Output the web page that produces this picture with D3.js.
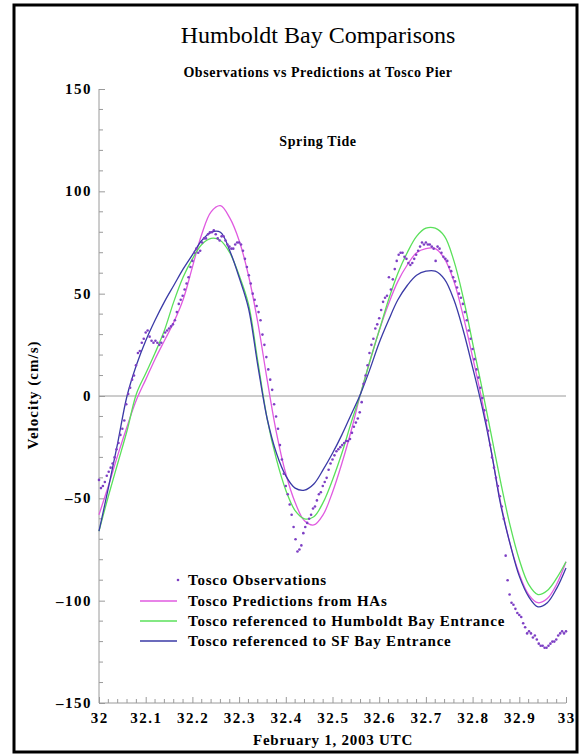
<!DOCTYPE html>
<html>
<head>
<meta charset="utf-8">
<script src="https://cdn.jsdelivr.net/npm/d3@7"></script>
<style>
  html, body { margin: 0; padding: 0; background: #fff; }
  svg { display: block; }
  text { font-family: "Liberation Serif", "Times New Roman", serif; fill: #000; }
</style>
</head>
<body>
<svg id="chart" width="582" height="755"></svg>
<script>
// Tosco Pier current velocity (cm/s), February 1, 2003 (day 32 UTC)

// Observations, every 6 minutes from day 32.0 to 33.0 (one row per hour)
const obsValues = [
  -41, -45, -44, -42, -39, -37, -35, -33, -30, -26,
  -23, -19, -16, -12, -4, 1, 4, 8, 10, 15,
  21, 22, 26, 28, 31, 32, 29, 27, 26, 27,
  26, 25, 26, 29, 31, 32, 33, 34, 35, 37,
  41, 45, 47, 49, 52, 55, 58, 63, 66, 70,
  72, 70, 71, 75, 77, 77, 79, 80, 80, 81,
  79, 77, 76, 78, 78, 76, 74, 73, 72, 72,
  74, 75, 75, 74, 71, 67, 63, 59, 55, 50,
  47, 44, 41, 37, 30, 25, 19, 13, 8, 3,
  -4, -10, -16, -24, -31, -38, -44, -48, -53, -58,
  -64, -70, -76, -75, -73, -67, -64, -62, -60, -58,
  -55, -54, -51, -48, -47, -44, -42, -40, -36, -33,
  -31, -29, -27, -26, -25, -24, -23, -22, -22, -21,
  -18, -15, -13, -11, -8, -3, 6, 10, 15, 21,
  25, 28, 33, 35, 38, 42, 46, 48, 49, 58,
  52, 57, 62, 66, 69, 70, 70, 68, 67, 65,
  64, 65, 67, 69, 71, 73, 75, 74, 75, 74,
  74, 73, 72, 66, 73, 72, 70, 68, 67, 66,
  63, 61, 58, 56, 53, 50, 48, 45, 41, 37,
  32, 28, 23, 18, 13, 9, 4, -1, -7, -12,
  -17, -24, -30, -35, -40, -44, -49, -54, -60, -78,
  -90, -97, -101, -102, -104, -106, -107, -108, -111, -113,
  -116, -115, -116, -118, -117, -119, -121, -122, -122, -123,
  -123, -122, -121, -120, -120, -119, -117, -116, -115, -116,
  -115
];

// Predictions, every 0.02 day from day 32.0 to 33.0
const haPredValues = [
  -58, -44, -29, -15, -2, 8, 18, 27, 36, 47,
  63, 79, 90, 93, 87, 76, 59, 36, 8, -18,
  -38, -52, -61, -63, -58, -47, -33, -17, 1, 17,
  32, 45, 56, 64, 70, 72, 72, 67, 56, 39,
  19, -2, -27, -52, -72, -87, -97, -101, -99, -92,
  -81
];
const humboldtRefValues = [
  -66, -49, -33, -17, 1, 11, 21, 32, 46, 58,
  67, 74, 77, 76, 70, 59, 45, 17, -11, -31,
  -46, -56, -60, -59, -52, -41, -28, -13, 1, 17,
  32, 47, 60, 70, 78, 82, 82, 78, 66, 48,
  26, 4, -19, -42, -63, -80, -92, -97, -95, -89,
  -81
];
const sfRefValues = [
  -66, -45, -23, 0, 15, 27, 37, 46, 54, 62,
  69, 76, 80, 80, 71, 58, 43, 15, -11, -28,
  -39, -45, -46, -43, -36, -28, -19, -9, 1, 13,
  26, 37, 47, 54, 59, 61, 61, 57, 47, 32,
  14, -5, -27, -53, -72, -88, -98, -103, -101, -94,
  -84
];

const xTickValues = [32, 32.1, 32.2, 32.3, 32.4, 32.5, 32.6, 32.7, 32.8, 32.9, 33];
const xTickLabels = ["32", "32.1", "32.2", "32.3", "32.4", "32.5", "32.6", "32.7", "32.8", "32.9", "33"];
const yTickValues = [-150, -100, -50, 0, 50, 100, 150];
const yTickLabels = ["\u2013150", "\u2013100", "\u201350", "0", "50", "100", "150"];

const legendLabels = [
  "Tosco Observations",
  "Tosco Predictions from HAs",
  "Tosco referenced to Humboldt Bay Entrance",
  "Tosco referenced to SF Bay Entrance"
];

const colors = {
  obs: "#7d3fc4",
  ha: "#e05ae0",
  humboldt: "#5ae05a",
  sf: "#3a3aa6",
  axis: "#9a9a9a"
};

const obsPoints = obsValues.map((v, i) => ({ t: 32 + i / 240, v }));
const predSeries = (vals) => vals.map((v, i) => ({ t: 32 + i * 0.02, v }));

const svg = d3.select("#chart");

// outer frame
svg.append("rect")
  .attr("x", 14).attr("y", 5).attr("width", 563).attr("height", 747)
  .attr("fill", "none").attr("stroke", "#000").attr("stroke-width", 3);

const x = d3.scaleLinear().domain([32, 33]).range([99, 566]);
const y = d3.scaleLinear().domain([-150, 150]).range([703, 89]);

// titles
svg.append("text").attr("x", 318).attr("y", 43).attr("text-anchor", "middle")
  .style("font-size", "24px").text("Humboldt Bay Comparisons");
svg.append("text").attr("x", 318).attr("y", 77).attr("text-anchor", "middle")
  .style("font-size", "14px").style("font-weight", "bold").style("letter-spacing", "0.55px")
  .text("Observations vs Predictions at Tosco Pier");
svg.append("text").attr("x", 318).attr("y", 146).attr("text-anchor", "middle")
  .style("font-size", "14px").style("font-weight", "bold").style("letter-spacing", "0.6px")
  .text("Spring Tide");

// left axis with minor ticks pointing inward
const yMinor = d3.range(-150, 151, 10).filter(v => v % 50 !== 0);
const yAxisG = svg.append("g").attr("transform", `translate(${x(32)},0)`);
yAxisG.call(d3.axisRight(y).tickValues(yTickValues).tickSize(6).tickFormat(""));
yAxisG.call(g => g.selectAll(".minor").data(yMinor).join("line")
  .attr("class", "minor").attr("x1", 0).attr("x2", 4)
  .attr("y1", d => y(d)).attr("y2", d => y(d)));
yAxisG.selectAll(".domain").attr("stroke", colors.axis).attr("d", `M0,${y(-150)}V${y(150)}`);
yAxisG.selectAll("line").attr("stroke", colors.axis);
yAxisG.selectAll(".tick text").remove();

svg.append("g").selectAll("text").data(yTickValues).join("text")
  .attr("x", 92).attr("y", d => y(d) + 5).attr("text-anchor", "end")
  .style("font-size", "15px").style("font-weight", "bold").style("letter-spacing", "1.5px")
  .text((d, i) => yTickLabels[i]);

// bottom axis with ticks pointing upward
const xMinor = d3.range(0, 51).map(i => 32 + i * 0.02).filter((d, i) => i % 5 !== 0);
const xAxisG = svg.append("g").attr("transform", `translate(0,${y(-150)})`);
xAxisG.call(d3.axisTop(x).tickValues(xTickValues).tickSize(6).tickFormat(""));
xAxisG.call(g => g.selectAll(".minor").data(xMinor).join("line")
  .attr("class", "minor").attr("y1", 0).attr("y2", -4)
  .attr("x1", d => x(d)).attr("x2", d => x(d)));
xAxisG.selectAll(".domain").attr("stroke", colors.axis).attr("d", `M${x(32)},0H${x(33)}`);
xAxisG.selectAll("line").attr("stroke", colors.axis);

svg.append("g").selectAll("text").data(xTickValues).join("text")
  .attr("x", d => x(d) + 0.75).attr("y", 723).attr("text-anchor", "middle")
  .style("font-size", "15px").style("font-weight", "bold").style("letter-spacing", "1.5px")
  .text((d, i) => xTickLabels[i]);

svg.append("text").attr("x", 333).attr("y", 745).attr("text-anchor", "middle")
  .style("font-size", "15px").style("font-weight", "bold").style("letter-spacing", "0.75px")
  .text("February 1, 2003 UTC");
svg.append("text").attr("transform", "translate(38,395) rotate(-90)")
  .attr("text-anchor", "middle")
  .style("font-size", "15px").style("font-weight", "bold").style("letter-spacing", "1px")
  .text("Velocity (cm/s)");

// zero reference line
svg.append("line")
  .attr("x1", x(32)).attr("x2", x(33)).attr("y1", y(0)).attr("y2", y(0))
  .attr("stroke", colors.axis).attr("stroke-width", 1);

// prediction curves
const line = d3.line().x(d => x(d.t)).y(d => y(d.v)).curve(d3.curveCatmullRom.alpha(0.5));
const curves = [
  { data: predSeries(haPredValues), color: colors.ha },
  { data: predSeries(humboldtRefValues), color: colors.humboldt },
  { data: predSeries(sfRefValues), color: colors.sf }
];
svg.append("g").selectAll("path").data(curves).join("path")
  .attr("d", d => line(d.data))
  .attr("fill", "none").attr("stroke", d => d.color).attr("stroke-width", 1.3);

// observations
svg.append("g").selectAll("circle").data(obsPoints).join("circle")
  .attr("cx", d => x(d.t)).attr("cy", d => y(d.v)).attr("r", 1.3)
  .attr("fill", colors.obs);

// legend
const legend = svg.append("g");
const legendRows = [580, 601, 621, 641];
legend.append("circle").attr("cx", 178).attr("cy", legendRows[0]).attr("r", 1.3).attr("fill", colors.obs);
[colors.ha, colors.humboldt, colors.sf].forEach((c, i) => {
  legend.append("line").attr("x1", 140).attr("x2", 177)
    .attr("y1", legendRows[i + 1]).attr("y2", legendRows[i + 1])
    .attr("stroke", c).attr("stroke-width", 1.3);
});
legend.selectAll("text").data(legendLabels).join("text")
  .attr("x", 188).attr("y", (d, i) => legendRows[i] + 5)
  .style("font-size", "15px").style("font-weight", "bold").style("letter-spacing", "0.78px")
  .text(d => d);
</script>
</body>
</html>
